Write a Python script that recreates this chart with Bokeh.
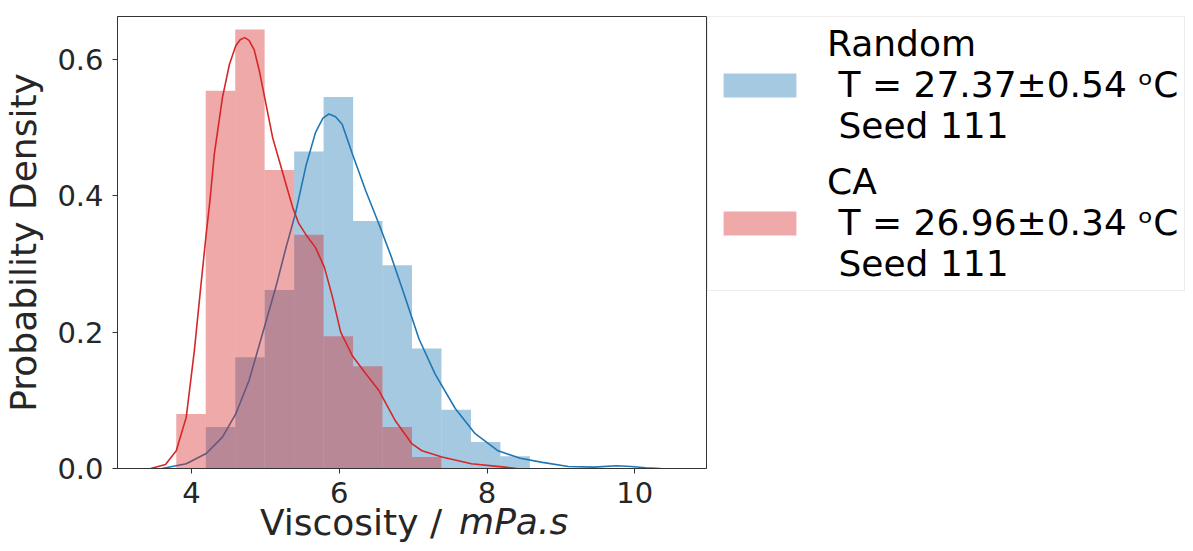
from bokeh.plotting import figure
from bokeh.layouts import row
from bokeh.models import (Legend, LegendItem, FixedTicker, LinearAxis,
                          PrintfTickFormatter, Range1d)
from bokeh.embed import file_html
from bokeh.resources import INLINE

# ---------------- data ----------------
random_edges = [4.194, 4.593, 4.991, 5.390, 5.789, 6.188, 6.586, 6.985,
                7.384, 7.783, 8.181, 8.580]
random_density = [0.061, 0.163, 0.262, 0.465, 0.545, 0.363, 0.298, 0.176,
                  0.086, 0.039, 0.018]

ca_edges = [3.795, 4.194, 4.593, 4.991, 5.390, 5.789, 6.188, 6.586, 6.985,
            7.384]
ca_density = [0.080, 0.554, 0.644, 0.438, 0.343, 0.194, 0.150, 0.061, 0.017]

random_kde_x = [3.60, 3.93, 4.20, 4.42, 4.60, 4.78, 4.96, 5.14, 5.28, 5.41,
                5.55, 5.68, 5.78, 5.86, 5.95, 6.04, 6.18, 6.36, 6.54, 6.70,
                6.87, 7.08, 7.30, 7.57, 7.84, 8.15, 8.45, 8.75, 9.10, 9.45,
                9.75, 9.95, 10.15, 10.35]
random_kde_y = [0.0, 0.007, 0.022, 0.046, 0.080, 0.129, 0.197, 0.265, 0.324,
                0.375, 0.444, 0.493, 0.514, 0.520, 0.516, 0.505, 0.461, 0.407,
                0.358, 0.312, 0.258, 0.190, 0.138, 0.088, 0.051, 0.026, 0.015,
                0.009, 0.003, 0.002, 0.004, 0.003, 0.001, 0.0]

ca_kde_x = [3.45, 3.65, 3.795, 3.93, 4.04, 4.13, 4.20, 4.25, 4.31, 4.42,
            4.515, 4.60, 4.66, 4.72, 4.78, 4.85, 4.92, 5.01, 5.10, 5.19,
            5.28, 5.37, 5.45, 5.55, 5.68, 5.80, 5.91, 6.02, 6.18, 6.36, 6.54,
            6.76, 6.985, 7.12, 7.39, 7.79, 8.24, 8.40]
ca_kde_y = [0.0, 0.006, 0.026, 0.075, 0.173, 0.270, 0.344, 0.392, 0.461,
            0.544, 0.593, 0.620, 0.629, 0.632, 0.628, 0.614, 0.583, 0.534,
            0.485, 0.451, 0.417, 0.383, 0.360, 0.343, 0.324, 0.295, 0.251,
            0.200, 0.165, 0.139, 0.114, 0.070, 0.036, 0.026, 0.017, 0.007,
            0.002, 0.0]

x_ticks = [4, 6, 8, 10]
y_ticks = [0.0, 0.2, 0.4, 0.6]

x_title_upright = "Viscosity /"
x_title_italic = "mPa.s"
y_title = "Probability Density"

random_label = "Random\n\u00a0T = 27.37±0.54 \u1d52C\n\u00a0Seed 111"
ca_label = "CA\n\u00a0T = 26.96±0.34 \u1d52C\n\u00a0Seed 111"

BLUE = "#1f77b4"
RED = "#d62728"
FONT = "DejaVu Sans"
INK = "#262626"

# ---------------- main plot ----------------
p = figure(width=707, height=551, output_backend="svg", toolbar_location=None,
           x_range=Range1d(3.0, 10.97), y_range=Range1d(0, 0.663),
           min_border_left=114, min_border_right=1, min_border_top=15,
           min_border_bottom=83)
p.grid.visible = False
p.background_fill_color = "white"
p.border_fill_color = "white"
p.outline_line_color = "#333333"
p.outline_line_width = 1

p.quad(left=random_edges[:-1], right=random_edges[1:], bottom=0,
       top=random_density, fill_color=BLUE, fill_alpha=0.4, line_color=None)
p.line(random_kde_x, random_kde_y, line_color=BLUE, line_width=1.6)
p.quad(left=ca_edges[:-1], right=ca_edges[1:], bottom=0,
       top=ca_density, fill_color=RED, fill_alpha=0.4, line_color=None)
p.line(ca_kde_x, ca_kde_y, line_color=RED, line_width=1.6)

for ax in (p.xaxis[0], p.yaxis[0]):
    ax.axis_line_color = "#333333"
    ax.major_tick_line_color = "#333333"
    ax.major_tick_out = 5
    ax.major_tick_in = 0
    ax.minor_tick_line_color = None
    ax.major_label_text_font = FONT
    ax.major_label_text_font_size = "29px"
    ax.major_label_text_color = INK

p.xaxis.ticker = FixedTicker(ticks=x_ticks)
p.xaxis.formatter = PrintfTickFormatter(format="%d")
p.xaxis.major_label_standoff = 8
p.yaxis.ticker = FixedTicker(ticks=y_ticks)
p.yaxis.formatter = PrintfTickFormatter(format="%.1f")
p.yaxis.major_label_standoff = 9
p.yaxis.axis_label = y_title
p.yaxis.axis_label_text_font = FONT
p.yaxis.axis_label_text_font_size = "36px"
p.yaxis.axis_label_text_font_style = "normal"
p.yaxis.axis_label_text_color = INK
p.yaxis.axis_label_standoff = 10

# x title: two label-only axes (upright + italic) sharing one row
title_pos_a = 6.16
title_pos_b = 8.36
for pos, txt, style, standoff in ((title_pos_a, x_title_upright, "normal", -4),
                                  (title_pos_b, x_title_italic, "italic", -45)):
    ax = LinearAxis(ticker=FixedTicker(ticks=[pos]),
                    major_label_overrides={pos: txt})
    ax.axis_line_color = None
    ax.major_tick_line_color = None
    ax.major_tick_out = 0
    ax.major_tick_in = 0
    ax.minor_tick_line_color = None
    ax.major_label_standoff = standoff
    ax.major_label_text_font = FONT
    ax.major_label_text_font_size = "36px"
    ax.major_label_text_font_style = style
    ax.major_label_text_color = INK
    p.add_layout(ax, "below")

# ---------------- legend panel ----------------
q = figure(width=486, height=551, output_backend="svg", toolbar_location=None,
           x_axis_type=None, y_axis_type=None, x_range=Range1d(0, 1),
           y_range=Range1d(0, 1), min_border_left=0, min_border_right=0,
           min_border_top=16, min_border_bottom=0)
q.grid.visible = False
q.outline_line_color = None
q.background_fill_color = "white"
q.border_fill_color = "white"
# legend swatches (kept outside the visible range of this panel)
kb = q.quad(left=[-3], right=[-2], bottom=[-3], top=[-2], fill_color=BLUE,
            fill_alpha=0.4, line_color=None)
kr = q.quad(left=[-3], right=[-2], bottom=[-3], top=[-2], fill_color=RED,
            fill_alpha=0.4, line_color=None)

legend = Legend(items=[LegendItem(label=random_label, renderers=[kb]),
                       LegendItem(label=ca_label, renderers=[kr])],
                location="top_left", orientation="vertical")
legend.label_text_font = FONT
legend.label_text_font_size = "36px"
legend.label_text_line_height = 1.125
legend.label_text_color = "black"
legend.glyph_width = 91
legend.glyph_height = 30
legend.label_standoff = 22
legend.padding = 6
legend.spacing = 15
legend.margin = 0
legend.border_line_color = "#dcdcdc"
legend.border_line_width = 1
legend.background_fill_color = "white"
legend.background_fill_alpha = 1.0
q.add_layout(legend)

layout = row(p, q, spacing=0)
open("out.html", "w").write(file_html(layout, INLINE))
